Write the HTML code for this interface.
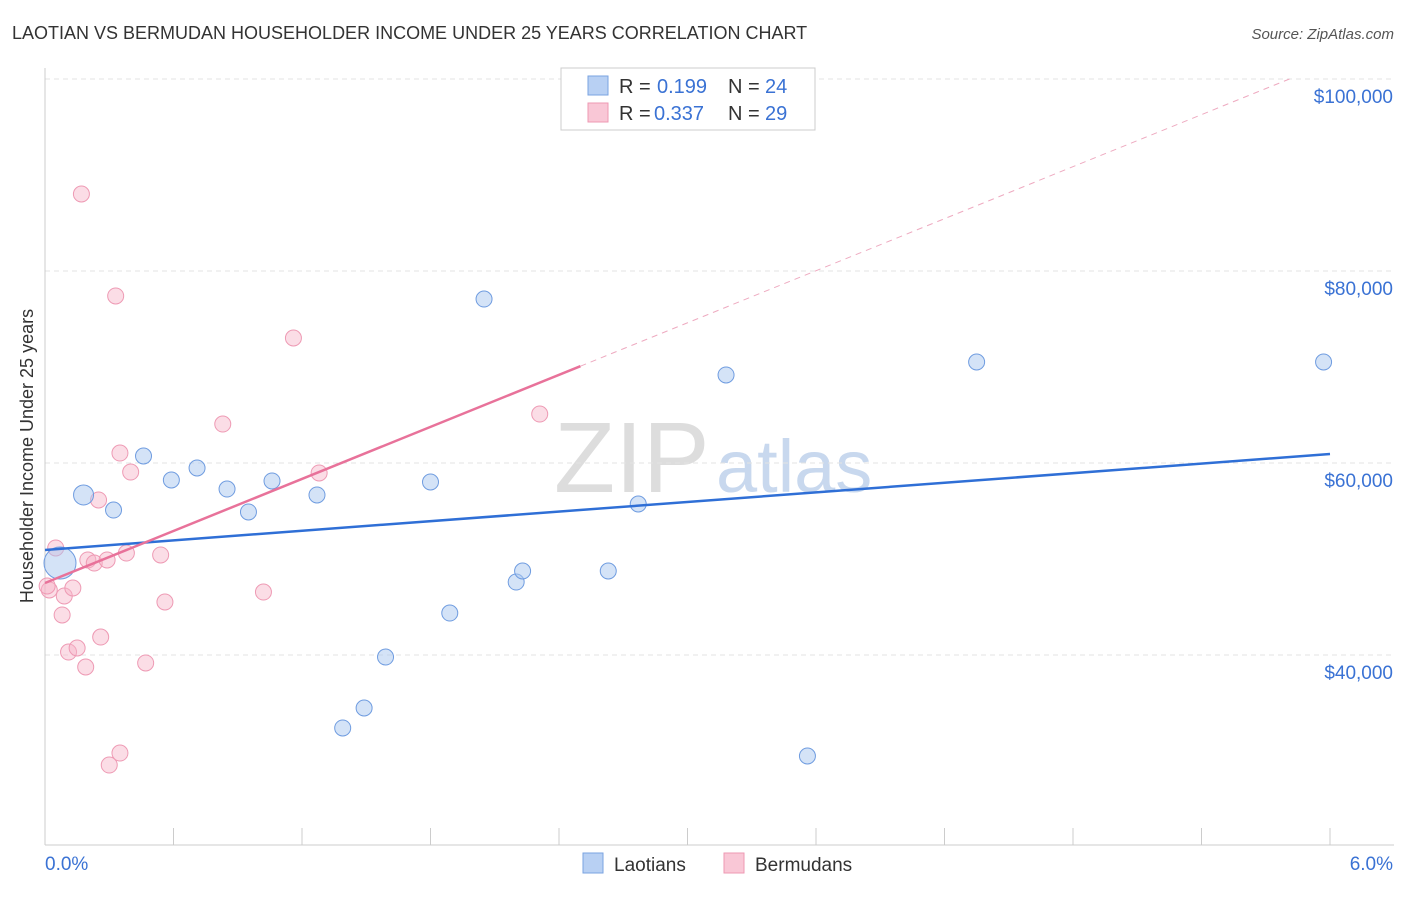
<!DOCTYPE html>
<html><head><meta charset="utf-8"><style>
body{margin:0;background:#fff;font-family:"Liberation Sans",sans-serif;}
#wrap{position:relative;width:1406px;height:892px;}
svg text{font-family:"Liberation Sans",sans-serif;}
</style></head><body>
<div id="wrap">
<svg id="svg" width="1406" height="892">
<text x="12" y="39" font-size="18" fill="#333">LAOTIAN VS BERMUDAN HOUSEHOLDER INCOME UNDER 25 YEARS CORRELATION CHART</text>
<text x="1394" y="39" font-size="15" fill="#555" font-style="italic" text-anchor="end">Source: ZipAtlas.com</text>
<text x="33" y="456" font-size="18" fill="#333" text-anchor="middle" transform="rotate(-90 33 456)">Householder Income Under 25 years</text>
<text x="554" y="492" font-size="100" fill="#ddd" font-family="Liberation Serif">ZIP</text>
<text x="716" y="492" font-size="74" fill="#c8d8ee">atlas</text>
<g id="grid"></g><g id="marks"></g>
<g>
<rect x="561" y="68" width="254" height="62" fill="#fff" stroke="#ccc"/>
<rect x="588" y="76" width="20" height="19" fill="#b8d0f3" stroke="#7aa3e0"/>
<text x="619" y="93" font-size="20" fill="#333">R =</text><text x="657" y="93" font-size="20" fill="#3a72d4">0.199</text>
<text x="728" y="93" font-size="20" fill="#333">N =</text><text x="765" y="93" font-size="20" fill="#3a72d4">24</text>
<rect x="588" y="103" width="20" height="19" fill="#f9c7d6" stroke="#ee99b3"/>
<text x="619" y="120" font-size="20" fill="#333">R =</text><text x="654" y="120" font-size="20" fill="#3a72d4">0.337</text>
<text x="728" y="120" font-size="20" fill="#333">N =</text><text x="765" y="120" font-size="20" fill="#3a72d4">29</text>
</g>
<g>
<rect x="583" y="853" width="20" height="20" fill="#b8d0f3" stroke="#7aa3e0"/>
<text x="614" y="871" font-size="19" fill="#333">Laotians</text>
<rect x="724" y="853" width="20" height="20" fill="#f9c7d6" stroke="#ee99b3"/>
<text x="755" y="871" font-size="19" fill="#333">Bermudans</text>
</g>
</svg></div>
<script>
const blueX=[0.07,0.18,0.32,0.46,0.59,0.71,0.85,0.95,1.06,1.27,1.39,1.49,1.59,1.80,1.89,2.05,2.20,2.23,2.63,2.77,3.18,3.56,4.35,5.97];
const blueY=[49580,56670,55100,60730,58230,59480,57290,54900,58130,56670,32400,34480,39790,58020,44370,77080,47600,48750,48750,55730,69170,29480,70520,70520];
const pinkX=[0.02,0.05,0.01,0.08,0.09,0.11,0.13,0.15,0.17,0.19,0.20,0.23,0.25,0.26,0.29,0.30,0.33,0.35,0.35,0.38,0.40,0.47,0.54,0.56,0.83,1.02,1.16,1.28,2.31];
const pinkY=[46770,51150,47190,44170,46150,40310,46980,40730,88020,38750,49900,49580,56150,41870,49900,28540,77400,29790,61040,50620,59060,39170,50420,45520,64060,46560,73020,58960,65100];
const yTicks=[40000,60000,80000,100000];
const yTickLabels=["$40,000","$60,000","$80,000","$100,000"];
const blueTrend=[50940,60940];
const pinkTrend=[47500,9035];
const X=p=>45+p*1285/6, Y=v=>79+(100000-v)*0.0096;
const NS="http://www.w3.org/2000/svg";
function mk(t,a,parent){const e=document.createElementNS(NS,t);for(const k in a)e.setAttribute(k,a[k]);parent.appendChild(e);return e;}
const grid=document.getElementById('grid'),marks=document.getElementById('marks');
yTicks.forEach((v,i)=>{
 const l=mk('line',{x1:45,x2:1394,y1:Y(v),y2:Y(v),stroke:'#e3e3e3','stroke-dasharray':'5,4'},grid);
 
 
 const t=mk('text',{x:1393,y:Y(v)+24,'font-size':19,fill:'#3a72d4','text-anchor':'end'},grid);t.textContent=yTickLabels[i];
 
 
});
mk('line',{x1:45,x2:45,y1:68,y2:845,stroke:'#ccc'},grid);
mk('line',{x1:45,x2:1394,y1:845,y2:845,stroke:'#ccc'},grid);
for(let i=1;i<=10;i++){const x=45+i*128.5;mk('line',{x1:x,x2:x,y1:828,y2:845,stroke:'#ccc'},grid);}
let t=mk('text',{x:45,y:870,'font-size':19,fill:'#3a72d4'},grid);t.textContent='0.0%';


t=mk('text',{x:1393,y:870,'font-size':19,fill:'#3a72d4','text-anchor':'end'},grid);t.textContent='6.0%';


pinkX.forEach((p,i)=>{const c=mk('circle',{cx:X(p),cy:Y(pinkY[i]),r:8,fill:'rgba(246,180,200,0.45)',stroke:'#ee9ab4','stroke-width':1},marks);
 
 });
blueX.forEach((p,i)=>{const r=i===0?16:(i===1?10:8);const c=mk('circle',{cx:X(p),cy:Y(blueY[i]),r:r,fill:'rgba(170,200,240,0.5)',stroke:'#6f9ce0','stroke-width':1},marks);
 
 });
let l=mk('line',{x1:X(0),y1:Y(blueTrend[0]),x2:X(6),y2:Y(blueTrend[1]),stroke:'#2f6fd6','stroke-width':2.5},marks);


l=mk('line',{x1:X(0),y1:Y(pinkTrend[0]),x2:X(2.5),y2:Y(pinkTrend[0]+pinkTrend[1]*2.5),stroke:'#e8729a','stroke-width':2.5},marks);


const pEnd=(100000-pinkTrend[0])/pinkTrend[1];
l=mk('line',{x1:X(2.5),y1:Y(pinkTrend[0]+pinkTrend[1]*2.5),x2:X(pEnd),y2:Y(pinkTrend[0]+pinkTrend[1]*pEnd),stroke:'#eeaac0','stroke-width':1,'stroke-dasharray':'6,5'},marks);


</script>
</body></html>
